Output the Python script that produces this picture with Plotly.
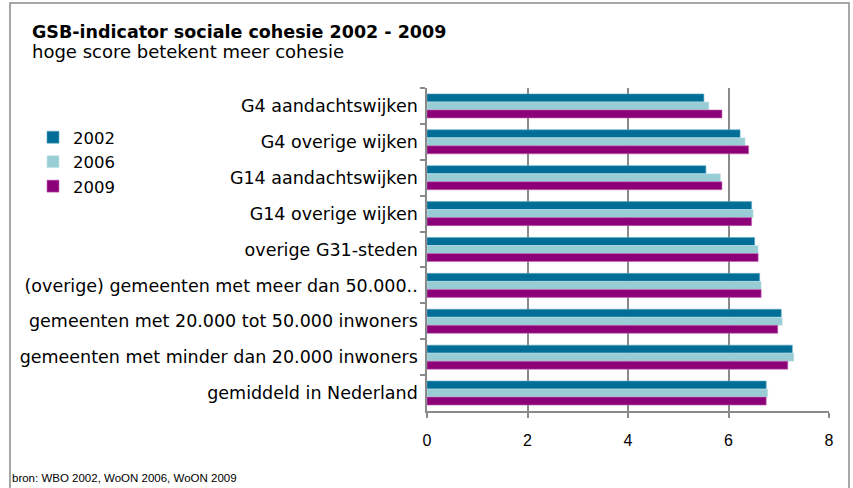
import plotly.graph_objects as go

categories = [
    "G4 aandachtswijken",
    "G4 overige wijken",
    "G14 aandachtswijken",
    "G14 overige wijken",
    "overige G31-steden",
    "(overige) gemeenten met meer dan 50.000..",
    "gemeenten met 20.000 tot 50.000 inwoners",
    "gemeenten met minder dan 20.000 inwoners",
    "gemiddeld in Nederland",
]
series_names = ["2002", "2006", "2009"]
values_2002 = [5.51, 6.23, 5.55, 6.46, 6.52, 6.62, 7.05, 7.27, 6.75]
values_2006 = [5.61, 6.33, 5.84, 6.49, 6.59, 6.65, 7.07, 7.30, 6.78]
values_2009 = [5.87, 6.40, 5.87, 6.46, 6.59, 6.65, 6.98, 7.18, 6.75]
x_ticks = [0, 2, 4, 6, 8]

colors = ["#006E96", "#99CDD5", "#8C0078"]
edge = ["#5fa9c4", "#c8e6ea", "#c06cb4"]

W, H = 853, 488
L, R, T, B = 427, 829, 88, 411  # plot area in page pixels

def px(x):
    return (x - L) / (R - L)

def py(y):
    return (B - y) / (B - T)

FONT = "DejaVu Sans, Liberation Sans, sans-serif"
FONT2 = "Liberation Sans, Arial, sans-serif"
GRID = "#8a8a8a"

fig = go.Figure()
for name, vals, c, e in zip(series_names, [values_2002, values_2006, values_2009], colors, edge):
    fig.add_trace(go.Bar(
        y=categories, x=vals, name=name, orientation="h",
        marker=dict(color=c, line=dict(color=e, width=0.6)),
    ))

fig.update_layout(
    width=W, height=H,
    paper_bgcolor="white", plot_bgcolor="white",
    margin=dict(l=L, r=W - R, t=T, b=H - B, pad=0),
    barmode="group", bargap=0.33, bargroupgap=0,
    font=dict(family=FONT, size=16, color="black"),
    showlegend=True,
    legend=dict(x=px(33), y=py(120), xanchor="left", yanchor="top",
                font=dict(size=16.5, family=FONT), bgcolor="rgba(0,0,0,0)",
                traceorder="normal", itemwidth=30, tracegroupgap=0),
    xaxis=dict(range=[0, 8], tickvals=x_ticks, showgrid=True, gridcolor=GRID,
               gridwidth=1.5, showline=True, linecolor=GRID, linewidth=1.5,
               ticks="outside", ticklen=5, tickcolor=GRID, tickwidth=1.5,
               tickfont=dict(size=16, family=FONT2), ticklabelstandoff=9, zeroline=False,
               fixedrange=True),
    yaxis=dict(autorange="reversed", showline=True, linecolor=GRID, linewidth=1.5,
               ticks="outside", tickson="boundaries", ticklen=5, tickcolor=GRID,
               tickwidth=1.5, tickfont=dict(size=17.5, family=FONT), showgrid=False,
               ticklabelstandoff=4, fixedrange=True),
)

# outer border
fig.add_shape(type="rect", xref="paper", yref="paper",
              x0=px(10), x1=px(849), y0=py(3), y1=py(500),
              line=dict(color=GRID, width=1.5), fillcolor="rgba(0,0,0,0)", layer="below")

fig.add_annotation(text="<b>GSB-indicator sociale cohesie 2002 - 2009</b>", xref="paper", yref="paper",
                   x=px(30), y=py(32), xanchor="left", yanchor="middle", showarrow=False,
                   font=dict(size=17.5, family=FONT, color="black"))
fig.add_annotation(text="hoge score betekent meer cohesie", xref="paper", yref="paper",
                   x=px(30), y=py(51), xanchor="left", yanchor="middle", showarrow=False,
                   font=dict(size=18, family=FONT, color="black"))
fig.add_annotation(text="bron: WBO 2002, WoON 2006, WoON 2009", xref="paper", yref="paper",
                   x=px(10), y=py(478), xanchor="left", yanchor="middle", showarrow=False,
                   font=dict(size=11.5, family=FONT2, color="black"))

fig.write_html("out.html", config={"displayModeBar": False},
               post_script="document.body.style.margin='0px';document.body.style.overflow='hidden';")
